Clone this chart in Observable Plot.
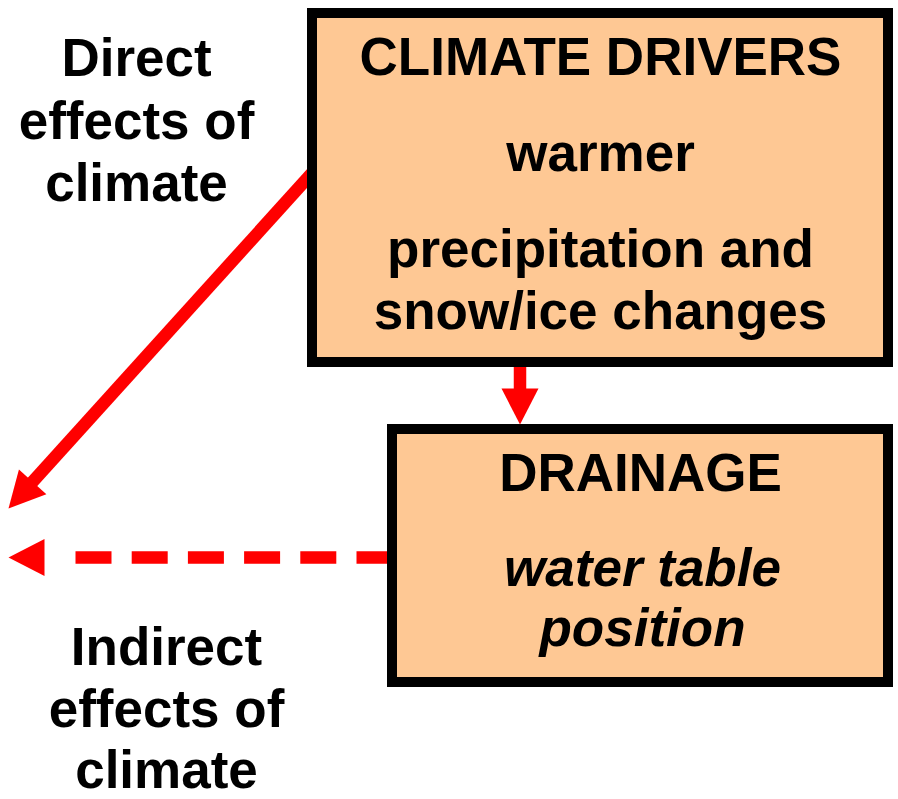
<!DOCTYPE html>
<html>
<head>
<meta charset="utf-8">
<script src="https://cdn.jsdelivr.net/npm/d3@7"></script>
<script src="https://cdn.jsdelivr.net/npm/@observablehq/plot@0.6"></script>
<style>
  html, body { margin: 0; padding: 0; background: #ffffff; }
  #chart svg { display: block; }
</style>
</head>
<body>
<div id="chart"></div>
<script>
// ---- Diagram data (positions in a 898 x 799 page coordinate space, y downward) ----
const boxNames = ["CLIMATE DRIVERS", "DRAINAGE"];
const boxX1 = [312, 392];
const boxX2 = [888, 888];
const boxY1 = [13, 429];
const boxY2 = [362, 682];

const boxLabels = ["CLIMATE DRIVERS", "warmer", "precipitation and", "snow/ice changes", "DRAINAGE"];
const boxLabelX = [600, 600, 600, 600, 640];
const boxLabelBaseline = [74, 170, 266, 328, 490];

const italicLabels = ["water table", "position"];
const italicLabelX = [642, 642];
const italicLabelBaseline = [585, 645];

const sideLabels = ["Direct", "effects of", "climate", "Indirect", "effects of", "climate"];
const sideLabelX = [136, 136, 136, 166, 166, 166];
const sideLabelBaseline = [75, 138, 200, 664, 726, 787];

const arrowNames = ["direct", "climate-to-drainage", "indirect"];
const arrowStartX = [312, 519.5, 392];
const arrowStartY = [172, 362, 557];
const arrowTipX = [8, 519.5, 8];
const arrowTipY = [508, 424, 557];
const arrowDashed = [false, false, true];

// ---- Build tables for the marks ----
const boxes = boxNames.map((name, i) => ({name, x1: boxX1[i], x2: boxX2[i], y1: boxY1[i], y2: boxY2[i]}));
const labels = boxLabels.map((t, i) => ({t, x: boxLabelX[i], y: boxLabelBaseline[i]}));
const italics = italicLabels.map((t, i) => ({t, x: italicLabelX[i], y: italicLabelBaseline[i]}));
const sides = sideLabels.map((t, i) => ({t, x: sideLabelX[i], y: sideLabelBaseline[i]}));

const HEAD_LEN = 36, HEAD_HALF = 18.5, END_GAP = 29;
const shafts = [], heads = [];
arrowNames.forEach((name, i) => {
  const sx = arrowStartX[i], sy = arrowStartY[i], tx = arrowTipX[i], ty = arrowTipY[i];
  const len = Math.hypot(tx - sx, ty - sy);
  const ux = (tx - sx) / len, uy = (ty - sy) / len;
  const back = HEAD_LEN + (arrowDashed[i] ? END_GAP : -1);
  shafts.push({name, dashed: arrowDashed[i], x1: sx, y1: sy, x2: tx - ux * back, y2: ty - uy * back});
  const bx = tx - ux * HEAD_LEN, by = ty - uy * HEAD_LEN;
  const px = -uy, py = ux;
  heads.push({name, x: tx, y: ty});
  heads.push({name, x: bx + px * HEAD_HALF, y: by + py * HEAD_HALF});
  heads.push({name, x: bx - px * HEAD_HALF, y: by - py * HEAD_HALF});
});

const FONT = "'Liberation Sans', Arial, Helvetica, sans-serif";
const RED = "#ff0000";
const textCommon = {fontSize: 53, fontWeight: "bold", fontFamily: FONT, lineAnchor: "bottom", textAnchor: "middle", fill: "#000"};

const chart = Plot.plot({
  width: 898,
  height: 799,
  margin: 0,
  style: {background: "#ffffff", fontFamily: FONT, overflow: "visible"},
  x: {domain: [0, 898], axis: null},
  y: {domain: [0, 799], reverse: true, axis: null},
  marks: [
    Plot.link(shafts.filter(d => !d.dashed), {x1: "x1", y1: "y1", x2: "x2", y2: "y2", stroke: RED, strokeWidth: 12.5}),
    Plot.link(shafts.filter(d => d.dashed), {x1: "x1", y1: "y1", x2: "x2", y2: "y2", stroke: RED, strokeWidth: 12.5, strokeDasharray: "36,20.2"}),
    Plot.rect(boxes, {x1: "x1", x2: "x2", y1: "y1", y2: "y2", fill: "#fec894", stroke: "#000", strokeWidth: 10}),
    Plot.line(heads, {x: "x", y: "y", z: "name", fill: RED, stroke: "none", curve: "linear-closed"}),
    Plot.text(labels, {x: "x", y: "y", text: "t", ...textCommon}),
    Plot.text(italics, {x: "x", y: "y", text: "t", ...textCommon, fontStyle: "italic"}),
    Plot.text(sides, {x: "x", y: "y", text: "t", ...textCommon})
  ]
});
document.getElementById("chart").appendChild(chart);
</script>
</body>
</html>
